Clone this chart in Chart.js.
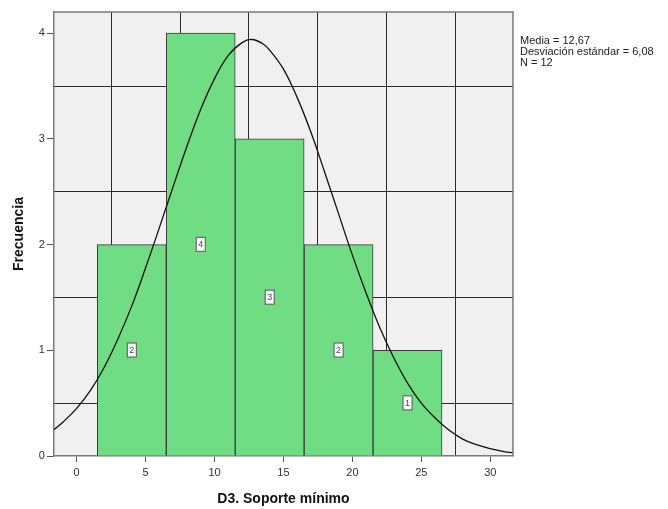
<!DOCTYPE html>
<html lang="es">
<head>
    <meta charset="UTF-8">
    <title>D3. Soporte mínimo - Histograma</title>
    <script src="https://cdn.jsdelivr.net/npm/chart.js"></script>
    <style>
        body{
            margin: 0;
            background: #fff;
        }
        #wrap{
            width: 668px;
            height: 509px;
        }
    </style>
</head>
<body>
    <div id="wrap"><canvas id="hist"></canvas></div>

    <script>
        // histogram: bin centres (bins 5 wide) and counts
        const binCenters = [4, 9, 14, 19, 24];
        const binCounts = [2, 4, 3, 2, 1];

        // normal curve
        const curveX = [-1.65, -1, 0, 1, 2, 3, 4, 5, 6, 7, 8, 9, 10, 11, 12, 12.7, 13.5, 14, 15, 16, 17, 18, 19, 20, 21, 22, 23, 24, 25, 26, 27, 28, 29, 30, 31, 31.65];
        const curveY = [0.25, 0.32, 0.45, 0.62, 0.84, 1.11, 1.42, 1.78, 2.16, 2.55, 2.93, 3.28, 3.57, 3.79, 3.91, 3.94, 3.90, 3.84, 3.66, 3.39, 3.06, 2.68, 2.29, 1.90, 1.54, 1.21, 0.93, 0.69, 0.50, 0.36, 0.245, 0.16, 0.107, 0.07, 0.042, 0.03];

        // axes
        const xTicks = [0, 5, 10, 15, 20, 25, 30];
        const yTicks = [0, 1, 2, 3, 4];
        const xGrid = [2.5, 7.5, 12.5, 17.5, 22.5, 27.5];
        const yGrid = [0.5, 1.5, 2.5, 3.5];

        const statLines = ['Media = 12,67', 'Desviación estándar = 6,08', 'N = 12'];

        Chart.defaults.font.family = 'Arial, "Liberation Sans", sans-serif';
        Chart.defaults.color = '#333';

        const X_MIN = -1.65, X_MAX = 31.65, Y_MIN = 0, Y_MAX = 4.2;

        // background + frame
        const plotFrame = {
            id: 'plotFrame',
            beforeDraw(chart) {
                const a = chart.chartArea, c = chart.ctx;
                c.save();
                c.fillStyle = '#f0f0f0';
                c.fillRect(a.left, a.top, a.right - a.left, a.bottom - a.top);
                c.restore();
            },
            afterDatasetsDraw(chart) {
                const a = chart.chartArea, c = chart.ctx;
                c.save();
                c.strokeStyle = '#7a7a7a';
                c.lineWidth = 1.5;
                c.beginPath();
                c.moveTo(a.left, a.top);
                c.lineTo(a.right, a.top);
                c.lineTo(a.right, a.bottom);
                c.stroke();
                c.restore();
            }
        };

        // little white count boxes in the middle of each bar
        const barLabels = {
            id: 'barLabels',
            afterDatasetsDraw(chart) {
                const meta = chart.getDatasetMeta(1);
                const c = chart.ctx;
                c.save();
                c.font = '9px Arial, "Liberation Sans", sans-serif';
                c.textAlign = 'center';
                c.textBaseline = 'middle';
                meta.data.forEach((bar, i) => {
                    const x = bar.x, y = (bar.y + bar.base) / 2;
                    c.fillStyle = '#ffffff';
                    c.strokeStyle = '#555';
                    c.lineWidth = 1;
                    c.fillRect(x - 4.5, y - 7, 9, 14);
                    c.strokeRect(x - 4.5, y - 7, 9, 14);
                    c.fillStyle = '#444';
                    c.fillText(String(binCounts[i]), x, y + 0.5);
                });
                c.restore();
            }
        };

        // stats text on the right
        const statsText = {
            id: 'statsText',
            afterDraw(chart) {
                const c = chart.ctx;
                c.save();
                c.font = '11px Arial, "Liberation Sans", sans-serif';
                c.fillStyle = '#222';
                c.textAlign = 'left';
                c.textBaseline = 'middle';
                statLines.forEach((t, i) => c.fillText(t, chart.chartArea.right + 7, 41 + i * 11));
                c.restore();
            }
        };

        const ctx = document.getElementById('hist').getContext('2d');
        const histChart = new Chart(ctx, {
            data: {
                datasets: [
                    {
                        type: 'line',
                        data: curveX.map((x, i) => ({ x: x, y: curveY[i] })),
                        borderColor: '#111',
                        borderWidth: 1.3,
                        pointRadius: 0,
                        tension: 0.4,
                        fill: false
                    },
                    {
                        type: 'bar',
                        data: binCenters.map((x, i) => ({ x: x, y: binCounts[i] })),
                        backgroundColor: '#70dc84',
                        borderColor: '#3a3a3a',
                        borderWidth: 1,
                        barPercentage: 1,
                        categoryPercentage: 1,
                        grouped: false
                    }
                ]
            },
            options: {
                responsive: true,
                maintainAspectRatio: false,
                animation: false,
                layout: {
                    padding: { left: 1, right: 155, top: 12, bottom: 0 }
                },
                plugins: {
                    legend: { display: false },
                    tooltip: { enabled: false }
                },
                scales: {
                    x: {
                        type: 'linear',
                        position: 'bottom',
                        offset: false,
                        min: X_MIN,
                        max: X_MAX,
                        afterBuildTicks: s => { s.ticks = xTicks.map(v => ({ value: v })); },
                        grid: { offset: false, drawOnChartArea: false, tickLength: 6, tickColor: '#555' },
                        border: { color: '#7a7a7a', width: 1.5 },
                        ticks: { font: { size: 11 }, color: '#333', padding: 4, autoSkip: false, maxRotation: 0 },
                        title: {
                            display: true,
                            text: 'D3. Soporte mínimo',
                            font: { size: 14, weight: 'bold' },
                            color: '#111',
                            padding: { top: 8, bottom: 1 }
                        }
                    },
                    y: {
                        type: 'linear',
                        position: 'left',
                        min: Y_MIN,
                        max: Y_MAX,
                        afterBuildTicks: s => { s.ticks = yTicks.map(v => ({ value: v })); },
                        grid: { drawOnChartArea: false, tickLength: 7, tickColor: '#555' },
                        border: { color: '#7a7a7a', width: 1.5 },
                        ticks: { font: { size: 11 }, color: '#333', padding: 2 },
                        title: {
                            display: true,
                            text: 'Frecuencia',
                            font: { size: 14, weight: 'bold' },
                            color: '#111',
                            padding: { top: 10, bottom: 9 }
                        }
                    },
                    // grid lines sit between the ticks, so they get their own hidden axes
                    xg: {
                        type: 'linear',
                        axis: 'x',
                        position: 'bottom',
                        offset: false,
                        min: X_MIN,
                        max: X_MAX,
                        afterBuildTicks: s => { s.ticks = xGrid.map(v => ({ value: v })); },
                        grid: { offset: false, color: '#2b2b2b', lineWidth: 1, drawTicks: false },
                        border: { display: false },
                        ticks: { display: false }
                    },
                    yg: {
                        type: 'linear',
                        axis: 'y',
                        position: 'left',
                        min: Y_MIN,
                        max: Y_MAX,
                        afterBuildTicks: s => { s.ticks = yGrid.map(v => ({ value: v })); },
                        grid: { color: '#2b2b2b', lineWidth: 1, drawTicks: false },
                        border: { display: false },
                        ticks: { display: false }
                    }
                }
            },
            plugins: [plotFrame, barLabels, statsText]
        });
    </script>
</body>
</html>
